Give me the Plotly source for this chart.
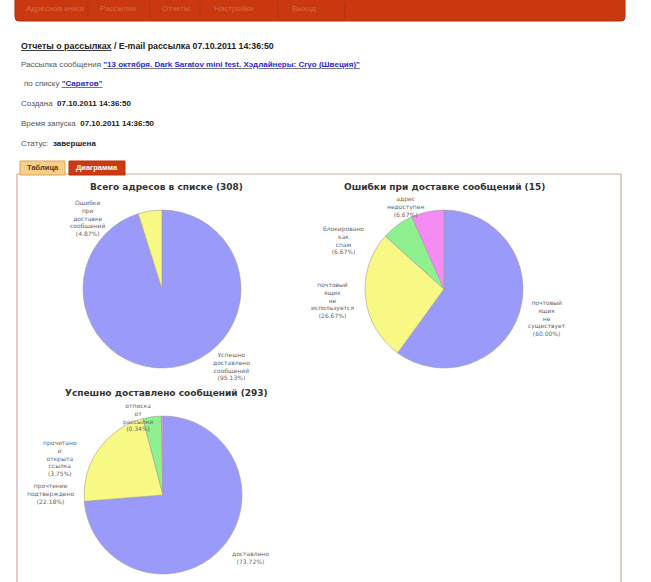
import plotly.graph_objects as go

W, H = 651, 582

# ---- data ----
pie1_title = "Всего адресов в списке (308)"
pie1_labels = [["Успешно", "доставлено", "сообщений"], ["Ошибки", "при", "доставке", "сообщений"]]
pie1_values = [293, 15]

pie2_title = "Ошибки при доставке сообщений (15)"
pie2_labels = [["почтовый", "ящик", "не", "существует"], ["почтовый", "ящик", "не", "используется"],
               ["блокировано", "как", "спам"], ["адрес", "недоступен"]]
pie2_values = [9, 4, 1, 1]

pie3_title = "Успешно доставлено сообщений (293)"
pie3_labels = [["доставлено"], ["прочтение", "подтверждено"], ["прочитано", "и", "открыта", "ссылка"],
               ["отписка", "от", "рассылки"]]
pie3_values = [216, 65, 11, 1]

menu_items = ["Адресная книга", "Рассылки", "Отчеты", "Настройки", "Выход"]
header_title = "Отчеты о рассылках"
header_rest = " / E-mail рассылка 07.10.2011 14:36:50"
mailing_name = "\"13 октября. Dark Saratov mini fest. Хэдлайнеры: Cryo (Швеция)\""
list_name = "\"Саратов\""
created = "07.10.2011 14:36:50"
started = "07.10.2011 14:36:50"
status = "завершена"
tabs = ["Таблица", "Диаграмма"]

# ---- styling ----
slice_colors = ["#9a9afa", "#f8f884", "#8ef08e", "#f48cf4"]
FONT = "Liberation Sans"
PIEFONT = "DejaVu Sans"


def X(px):
    return px / W


def Y(py):
    return 1 - py / H


def dom(cx, cy, r):
    return dict(x=[X(cx - r), X(cx + r)], y=[Y(cy + r), Y(cy - r)])


fig = go.Figure()

pies = [
    (pie1_values, pie1_labels, (162, 289, 79)),
    (pie2_values, pie2_labels, (444, 289, 79)),
    (pie3_values, pie3_labels, (163, 495, 79)),
]
for vals, labs, (cx, cy, r) in pies:
    fig.add_trace(go.Pie(
        values=vals, labels=[" ".join(l) for l in labs], sort=False, direction="clockwise",
        rotation=0, textinfo="none", hoverinfo="label+percent", showlegend=False,
        marker=dict(colors=slice_colors[:len(vals)], line=dict(color="#a0a0a0", width=0.6)),
        domain=dom(cx, cy, r),
    ))

shapes = []
ann = []


def text(px, py, t, size, color, family=FONT, xanchor="left"):
    ann.append(dict(x=X(px), y=Y(py), text=t, xanchor=xanchor, yanchor="middle", showarrow=False,
                    font=dict(family=family, size=size, color=color)))


# top red menu bar with rounded bottom
x0, x1, y0, y1, rr = 15, 625, -2, 21, 4
path = (f"M {X(x0)},{Y(y0)} L {X(x1)},{Y(y0)} L {X(x1)},{Y(y1 - rr)} "
        f"Q {X(x1)},{Y(y1)} {X(x1 - rr)},{Y(y1)} L {X(x0 + rr)},{Y(y1)} "
        f"Q {X(x0)},{Y(y1)} {X(x0)},{Y(y1 - rr)} Z")
shapes.append(dict(type="path", xref="paper", yref="paper", path=path,
                   fillcolor="#c9380f", line=dict(color="#a8300e", width=1)))
seps = [88, 150, 200, 278, 345]
starts = [24, 98, 160, 212, 290]
for s in seps:
    shapes.append(dict(type="line", xref="paper", yref="paper", x0=X(s), x1=X(s), y0=Y(2), y1=Y(19),
                       line=dict(color="#a83512", width=1)))
for st, item in zip(starts, menu_items):
    text(st, 9, item, 8, "#dc6842")

# header text lines
text(19, 46, f"<b><span style='color:#222'><u>{header_title}</u>{header_rest}</span></b>", 8.8, "#555")
text(19, 64, f"Рассылка сообщения <b><u><span style='color:#2b2bd0'>{mailing_name}</span></u></b>", 8, "#555")
text(22, 84, f"по списку <b><u><span style='color:#2b2bd0'>{list_name}</span></u></b>", 8, "#555")
text(19, 103, f"Создана  <b><span style='color:#222'>{created}</span></b>", 8, "#555")
text(19, 123, f"Время запуска  <b><span style='color:#222'>{started}</span></b>", 8, "#555")
text(19, 143, f"Статус:  <b><span style='color:#222'>{status}</span></b>", 8, "#555")

# content box
shapes.append(dict(type="rect", xref="paper", yref="paper", x0=X(17), x1=X(621), y0=Y(174), y1=Y(590),
                   line=dict(color="#d8aaa2", width=1.2), fillcolor="rgba(0,0,0,0)"))
# tabs
shapes.append(dict(type="rect", xref="paper", yref="paper", x0=X(20), x1=X(65), y0=Y(175), y1=Y(161),
                   line=dict(color="#d9a455", width=1), fillcolor="#f7cf8a"))
shapes.append(dict(type="rect", xref="paper", yref="paper", x0=X(69), x1=X(125), y0=Y(175), y1=Y(161),
                   line=dict(color="#b8300e", width=1), fillcolor="#cc3a12"))
text(42.5, 168, f"<b>{tabs[0]}</b>", 7.5, "#5a3a10", xanchor="center")
text(97, 168, f"<b>{tabs[1]}</b>", 7.5, "#ffffff", xanchor="center")

# pie titles
for (tx, ty, t) in [(166, 187, pie1_title), (444, 187, pie2_title), (166, 393, pie3_title)]:
    text(tx, ty, f"<b>{t}</b>", 9, "#333", family=PIEFONT, xanchor="center")


# slice labels
def pct_labels(labels, values):
    tot = sum(values)
    return ["<br>".join(l + [f"({v / tot * 100:.2f}%)"]) for l, v in zip(labels, values)]


label_pos = [
    (pie1_labels, pie1_values, [(231, 366), (88, 218)]),
    (pie2_labels, pie2_values, [(547, 318), (332, 300), (343, 240), (405, 206)]),
    (pie3_labels, pie3_values, [(250, 557), (50, 493), (60, 458), (138, 417)]),
]
for labs, vals, poss in label_pos:
    for txt, (lx, ly) in zip(pct_labels(labs, vals), poss):
        text(lx, ly, txt, 6, "#666", family=PIEFONT, xanchor="center")

fig.update_layout(width=W, height=H, margin=dict(l=0, r=0, t=0, b=0),
                  paper_bgcolor="white", plot_bgcolor="white",
                  shapes=shapes, annotations=ann)
fig.write_html("out.html", config={"displayModeBar": False},
               post_script="document.body.style.margin='0px';document.body.style.overflow='hidden';")
